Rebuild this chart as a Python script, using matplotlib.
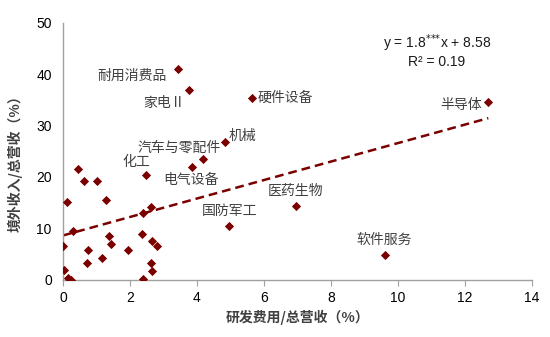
import numpy as np
import matplotlib.pyplot as plt

plt.rcParams['font.family'] = ['Liberation Sans', 'Noto Sans CJK SC']

# 研发费用/总营收 (x) 与 境外收入/总营收 (y)
行业 = ['耐用消费品', '家电Ⅱ', '硬件设备', '机械', '汽车与零配件', '电气设备',
      '化工', '国防军工', '医药生物', '软件服务', '半导体']
行业x = [3.42, 3.77, 5.63, 4.83, 4.17, 3.86, 2.49, 4.96, 6.96, 9.61, 12.7]
行业y = [41.0, 37.0, 35.4, 26.7, 23.4, 21.9, 20.4, 10.5, 14.4, 4.8, 34.5]

其他x = [0.44, 0.64, 1.02, 0.12, 1.27, 2.63, 2.39, 0.31, 0.0, 1.37, 1.43, 0.75,
       0.72, 1.17, 1.93, 2.37, 2.65, 2.80, 2.63, 2.67, 2.39, 0.03, 0.16, 0.23]
其他y = [21.5, 19.2, 19.2, 15.2, 15.4, 14.1, 12.9, 9.45, 6.5, 8.5, 6.9, 5.75,
       3.2, 4.2, 5.75, 8.9, 7.6, 6.6, 3.3, 1.66, 0.1, 1.85, 0.3, 0.0]

斜率, 截距 = 1.8, 8.58

# 标签位置 (数据坐标)
标签x = [2.07, 3.01, 5.8, 4.93, 3.48, 3.82, 2.18, 4.97, 6.1, 9.6, 11.9]
标签y = [39.7, 34.4, 35.4, 28.0, 25.6, 19.3, 22.9, 13.4, 17.3, 7.7, 34.0]
标签ha = ['center', 'center', 'left', 'left', 'center', 'center', 'center',
         'center', 'left', 'center', 'center']

红 = '#7a0000'
灰字 = '#404040'
中文 = ['Noto Sans CJK SC', 'DejaVu Sans']

fig = plt.figure(figsize=(5.5, 3.37), dpi=100)
ax = fig.add_axes([0.1145, 0.1706, 0.8525, 0.7614])

allx = np.array(行业x + 其他x)
ax.scatter(allx, 行业y + 其他y, marker='D', s=22, color=红, zorder=3, linewidths=0)

lx = np.array([0, allx.max()])
ax.plot(lx, 斜率 * lx + 截距, ls=(0, (3.5, 2)), lw=1.8, color=红, zorder=2)

for t, x, y, ha in zip(行业, 标签x, 标签y, 标签ha):
    ax.text(x, y, t, ha=ha, va='center', fontsize=10, color=灰字, family=中文)

ax.text(11.16, 44.6, 'y = 1.8$^{{*}{*}{*}}$x + 8.58\nR² = 0.19', ha='center', va='center',
        fontsize=10, color='#1a1a1a', linespacing=1.05)

ax.set_xlim(0, 14)
ax.set_ylim(0, 50)
ax.set_xticks(range(0, 15, 2))
ax.set_yticks(range(0, 51, 10))
for s in ['top', 'right']:
    ax.spines[s].set_visible(False)
for s in ['left', 'bottom']:
    ax.spines[s].set_color('#a0a0a0')
    ax.spines[s].set_linewidth(1.0)
ax.tick_params(axis='x', length=4, color='#a0a0a0', labelsize=10, pad=4)
ax.tick_params(axis='y', length=0, labelsize=10, pad=8)

ax.set_xlabel('研发费用/总营收（%）', fontsize=10, fontweight='bold', color=灰字,
              family=中文, labelpad=4)
ax.set_ylabel('境外收入/总营收（%）', fontsize=10, fontweight='bold', color=灰字,
              family=中文)
ax.yaxis.set_label_coords(-0.087, 0.466)

fig.savefig('out.png', dpi=100)
